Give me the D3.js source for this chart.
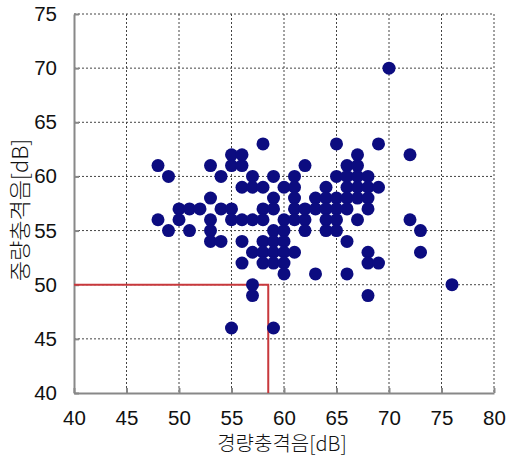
<!DOCTYPE html>
<html><head><meta charset="utf-8">
<script src="https://cdn.jsdelivr.net/npm/d3@7"></script>
<style>body{margin:0;background:#fff}</style>
</head><body>
<svg id="c" width="515" height="458"></svg>
<script>
const xTicks = [40,45,50,55,60,65,70,75,80];
const yTicks = [40,45,50,55,60,65,70,75];
const xTitle = "경량충격음[dB]";
const yTitle = "중량충격음[dB]";
const lightImpact = [48,49,48,49,50,50,51,51,52,53,54,53,53,53,53,54,54,55,55,
 55,56,55,56,58,57,59,61,62,
 56,57,58,60,61,
 59,61,
 58,59,61,
 55,56,57,58,60,61,62,
 59,60,
 56,58,59,60,
 57,58,59,60,61,
 56,58,59,60,
 60,57,57,59,
 65,69,67,66,67,
 65,66,67,68,
 64,66,67,68,69,
 63,64,65,66,67,68,
 62,63,64,65,66,68,
 64,65,67,
 62,64,65,
 66,68,68,69,63,66,68,
 70,72,72,73,73,76];
const heavyImpact = [61,60,56,55,57,56,57,55,57,61,60,58,56,55,54,54,57,57,46,
 62,62,61,61,63,60,60,60,61,
 59,59,59,59,59,
 58,58,
 57,57,57,
 56,56,56,56,56,56,56,
 55,55,
 54,54,54,54,
 53,53,53,53,53,
 52,52,52,52,
 51,50,49,46,
 63,63,62,61,61,
 60,60,60,60,
 59,59,59,59,59,
 58,58,58,58,58,58,
 57,57,57,57,57,57,
 56,56,56,
 55,55,55,
 54,53,52,52,51,51,49,
 70,62,56,55,53,50];
const limitX = [40,58.5,58.5];
const limitY = [50,50,40];

const svg = d3.select("#c");
const L=74,R=494,T=14,B=393;
const x = d3.scaleLinear().domain([40,80]).range([L,R]);
const y = d3.scaleLinear().domain([40,75]).range([B,T]);

// grid
const g = svg.append("g");
g.selectAll(".vx").data(xTicks.slice(1)).join("line")
  .attr("x1",d=>x(d)).attr("x2",d=>x(d)).attr("y1",T).attr("y2",B)
  .attr("stroke","#444").attr("stroke-width",1).attr("stroke-dasharray","2,2");
g.selectAll(".hy").data(yTicks.slice(1)).join("line")
  .attr("y1",d=>y(d)).attr("y2",d=>y(d)).attr("x1",L).attr("x2",R)
  .attr("stroke","#444").attr("stroke-width",1).attr("stroke-dasharray","2,2");

// axes
const xAxis = d3.axisBottom(x).tickValues(xTicks).tickSizeInner(-5).tickSizeOuter(0).tickPadding(17);
const yAxis = d3.axisLeft(y).tickValues(yTicks).tickSizeInner(-5).tickSizeOuter(0).tickPadding(17);
const gx = svg.append("g").attr("transform",`translate(0,${B})`).call(xAxis);
const gy = svg.append("g").attr("transform",`translate(${L},0)`).call(yAxis);
[gx,gy].forEach(a=>{
  a.select(".domain").attr("stroke","#888").attr("stroke-width",2);
  a.selectAll(".tick line").attr("stroke","#888").attr("stroke-width",2);
  a.selectAll(".tick text").attr("font-family","Liberation Sans, Arial, sans-serif")
   .attr("font-size",20.5).attr("fill","#111");
});

// limit line
svg.append("path")
  .attr("d", d3.line().x((d,i)=>x(limitX[i])).y((d,i)=>y(limitY[i]))(limitX))
  .attr("fill","none").attr("stroke","#c8383c").attr("stroke-width",2);

// points
svg.append("g").selectAll("circle").data(lightImpact).join("circle")
  .attr("cx",d=>x(d)).attr("cy",(d,i)=>y(heavyImpact[i])).attr("r",6.5)
  .attr("fill","#0c0c80");

// titles
svg.append("text").attr("x",282).attr("y",451).attr("text-anchor","middle")
  .attr("font-family","Noto Sans CJK KR, sans-serif").attr("font-size",20).attr("font-weight",300).attr("fill","#111")
  .text(xTitle);
svg.append("text").attr("transform",`translate(28,210) rotate(-90)`).attr("text-anchor","middle")
  .attr("font-family","Noto Sans CJK KR, sans-serif").attr("font-size",22).attr("font-weight",300).attr("fill","#111")
  .text(yTitle);
</script>
</body></html>
